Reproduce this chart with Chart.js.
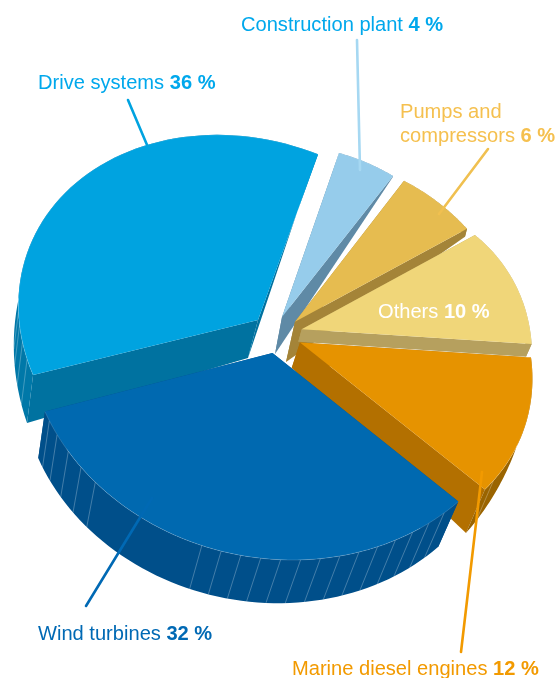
<!DOCTYPE html>
<html>
<head>
<meta charset="utf-8">
<style>
  html, body { margin: 0; padding: 0; background: #fff; }
  #wrap { position: relative; width: 558px; height: 678px; }
</style>
<script src="https://cdn.jsdelivr.net/npm/chart.js@4"></script>
</head>
<body>
<div id="wrap"><canvas id="chart"></canvas></div>
<script>
// Application shares, in percent, clockwise from the drive systems slice
const categories = ['Drive systems', 'Construction plant', 'Pumps and\ncompressors', 'Others', 'Marine diesel engines', 'Wind turbines'];
const shares = [36, 4, 6, 10, 12, 32];

const faceColors = ['#00A3E0', '#96CCEB', '#E6BC50', '#F0D679', '#E69300', '#0069B0'];
const sideColors = ['#0072A0', '#5F8AA6', '#A48438', '#B6A05E', '#B37000', '#004F8A'];
const rimColors  = ['#0078A8', '#5F8AA6', '#A48438', '#B6A05E', '#9A6400', '#004F8A'];
const textColors = ['#00A8EC', '#00A8EC', '#F5C04F', '#FFFFFF', '#F29A00', '#0069B4'];
const lineColors = ['#00A3E0', '#A6D8F2', '#F0C050', null, '#F29A00', '#0069B4'];

// Each slice is posed on its own: apex, ellipse centre and the two ellipse
// axes, all in pixels relative to the pie centre. The angular span of a slice
// always comes from the arc element.
const facePoses = [
  { a: [-21, -19],    c: [-34, -10],     e: [-163, -151],   f: [157.5, -122] },
  { a: [3, -22],      c: [-13.2, 56.7],  e: [101, -233],    f: [215.4, 91.7] },
  { a: [16, -17.3],   c: [39.6, 21],     e: [119, -158],    f: [168, 128] },
  { a: [22.7, -9.7],  c: [0.8, 67.5],    e: [235, -123],    f: [91.7, 176.4] },
  { a: [21, 3.5],     c: [17, 10],       e: [228, 80],      f: [-62.5, 179.3] },
  { a: [-6.5, 14],    c: [-3, 6],        e: [-45.5, 208.3], f: [-244.8, -53.3] }
];
const basePoses = [
  { a: [-31, 19],     c: [-39.6, 24.3],  e: [-159.4, -173.3], f: [159.7, -147.5] },
  { a: [-4, 15],      c: [-13.2, 57.5],  e: [101, -233],      f: [215.4, 91.7] },
  { a: [7, 23],       c: [37.6, 29],     e: [119, -158],      f: [168, 128] },
  { a: [19.3, 2.7],   c: [-11.5, 56.3],  e: [245, -104],      f: [82.5, 195.3] },
  { a: [12.7, 29],    c: [1, 26.5],      e: [235, 85.5],      f: [-88.3, 239] },
  { a: [-7, 41],      c: [-16.6, 55],    e: [-45, 202.5],     f: [-236.9, -52.4] }
];

// Facet lines on the curved walls, degrees from each slice's mid angle
const facetAngles = [
  [-60, -55, -50, -46],
  [],
  [],
  [],
  [18],
  [-53, -48.4, -43.8, -39.2, -34.6, -30, -25.4, -20.8, -16.2, -11.6, -7, -2.4, 2.2, 6.8, 36, 41, 46, 51, 55]
];

// Leader lines [x0, y0, x1, y1] and label anchors [x, baseline]
const leaders = [
  [128, 100, 150, 152],
  [357, 40, 360, 170],
  [488, 149, 439, 214],
  null,
  [482, 472, 461, 652],
  [86, 606, 152, 498]
];
const labelAnchors = [[38, 89], [241, 31], [400, 118], [378, 318], [292, 675], [38, 640]];

const LABEL_SIZE = 20.1;
const LABEL_FONT = '"Liberation Sans", Arial, sans-serif';

const { ArcElement, PieController } = Chart;

// Arc element drawn as one tilted, extruded slice
class TiltArc extends ArcElement {
  static id = 'tiltArc';

  rimPoint(pose, phi) {
    return [
      this.x + pose.c[0] + pose.e[0] * Math.cos(phi) + pose.f[0] * Math.sin(phi),
      this.y + pose.c[1] + pose.e[1] * Math.cos(phi) + pose.f[1] * Math.sin(phi)
    ];
  }

  apexPoint(pose) {
    return [this.x + pose.a[0], this.y + pose.a[1]];
  }

  rimPath(pose, reverse) {
    const half = (this.endAngle - this.startAngle) / 2;
    const steps = 60;
    const pts = [];
    for (let i = 0; i <= steps; i++) {
      pts.push(this.rimPoint(pose, -half + (2 * half * i) / steps));
    }
    return reverse ? pts.reverse() : pts;
  }

  fillPolygon(ctx, pts, color) {
    ctx.beginPath();
    pts.forEach((p, i) => (i ? ctx.lineTo(p[0], p[1]) : ctx.moveTo(p[0], p[1])));
    ctx.closePath();
    ctx.fillStyle = color;
    ctx.fill();
  }

  drawWalls(ctx, face, base, sideColor, rimColor, facets) {
    const half = (this.endAngle - this.startAngle) / 2;
    const apexTop = this.apexPoint(face);
    const apexLow = this.apexPoint(base);
    const startTop = this.rimPoint(face, -half);
    const startLow = this.rimPoint(base, -half);
    const endTop = this.rimPoint(face, half);
    const endLow = this.rimPoint(base, half);

    this.fillPolygon(ctx, [apexTop, startTop, startLow, apexLow], sideColor);
    this.fillPolygon(ctx, [apexTop, endTop, endLow, apexLow], sideColor);
    this.fillPolygon(ctx, this.rimPath(face).concat(this.rimPath(base, true)), rimColor);

    ctx.strokeStyle = 'rgba(255,255,255,0.38)';
    ctx.lineWidth = 0.7;
    facets.forEach((deg) => {
      const phi = (deg * Math.PI) / 180;
      const top = this.rimPoint(face, phi);
      const low = this.rimPoint(base, phi);
      ctx.beginPath();
      ctx.moveTo(top[0], top[1]);
      ctx.lineTo(low[0], low[1]);
      ctx.stroke();
    });
  }

  drawFace(ctx, face) {
    const rim = this.rimPath(face);
    this.fillPolygon(ctx, [this.apexPoint(face)].concat(rim), this.options.backgroundColor);
    ctx.beginPath();
    rim.forEach((p, i) => (i ? ctx.lineTo(p[0], p[1]) : ctx.moveTo(p[0], p[1])));
    ctx.strokeStyle = 'rgba(255,255,255,0.25)';
    ctx.lineWidth = 0.6;
    ctx.stroke();
  }
}
Chart.register(TiltArc);

// Pie controller that paints every wall first, then the top faces
class TiltPieController extends PieController {
  static id = 'tiltPie';
  static defaults = { dataElementType: 'tiltArc' };

  draw() {
    const ctx = this.chart.ctx;
    const arcs = this._cachedMeta.data;
    arcs.forEach((arc, i) =>
      arc.drawWalls(ctx, facePoses[i], basePoses[i], sideColors[i], rimColors[i], facetAngles[i]));
    arcs.forEach((arc, i) => arc.drawFace(ctx, facePoses[i]));
  }
}
Chart.register(TiltPieController);

// Leader lines and the label text, whose percentages come from the data
const annotations = {
  id: 'sliceAnnotations',
  afterDatasetsDraw(chart) {
    const ctx = chart.ctx;
    ctx.save();
    ctx.lineCap = 'round';
    leaders.forEach((l, i) => {
      if (!l) return;
      ctx.beginPath();
      ctx.moveTo(l[0], l[1]);
      ctx.lineTo(l[2], l[3]);
      ctx.strokeStyle = lineColors[i];
      ctx.lineWidth = 2.6;
      ctx.stroke();
    });
    ctx.textBaseline = 'alphabetic';
    categories.forEach((name, i) => {
      const lines = name.split('\n');
      const [x, y] = labelAnchors[i];
      ctx.fillStyle = textColors[i];
      lines.forEach((line, j) => {
        const base = y + j * 24;
        ctx.font = `${LABEL_SIZE}px ${LABEL_FONT}`;
        ctx.fillText(line, x, base);
        if (j === lines.length - 1) {
          const w = ctx.measureText(line + ' ').width;
          ctx.font = `bold ${LABEL_SIZE}px ${LABEL_FONT}`;
          ctx.fillText(`${shares[i]} %`, x + w, base);
        }
      });
    });
    ctx.restore();
  }
};

new Chart(document.getElementById('chart'), {
  type: 'tiltPie',
  data: {
    labels: categories,
    datasets: [{ data: shares, backgroundColor: faceColors, borderWidth: 0 }]
  },
  options: {
    responsive: true,
    maintainAspectRatio: false,
    animation: false,
    rotation: 250,
    layout: { padding: 0 },
    plugins: { legend: { display: false }, tooltip: { enabled: false } }
  },
  plugins: [annotations]
});
</script>
</body>
</html>
